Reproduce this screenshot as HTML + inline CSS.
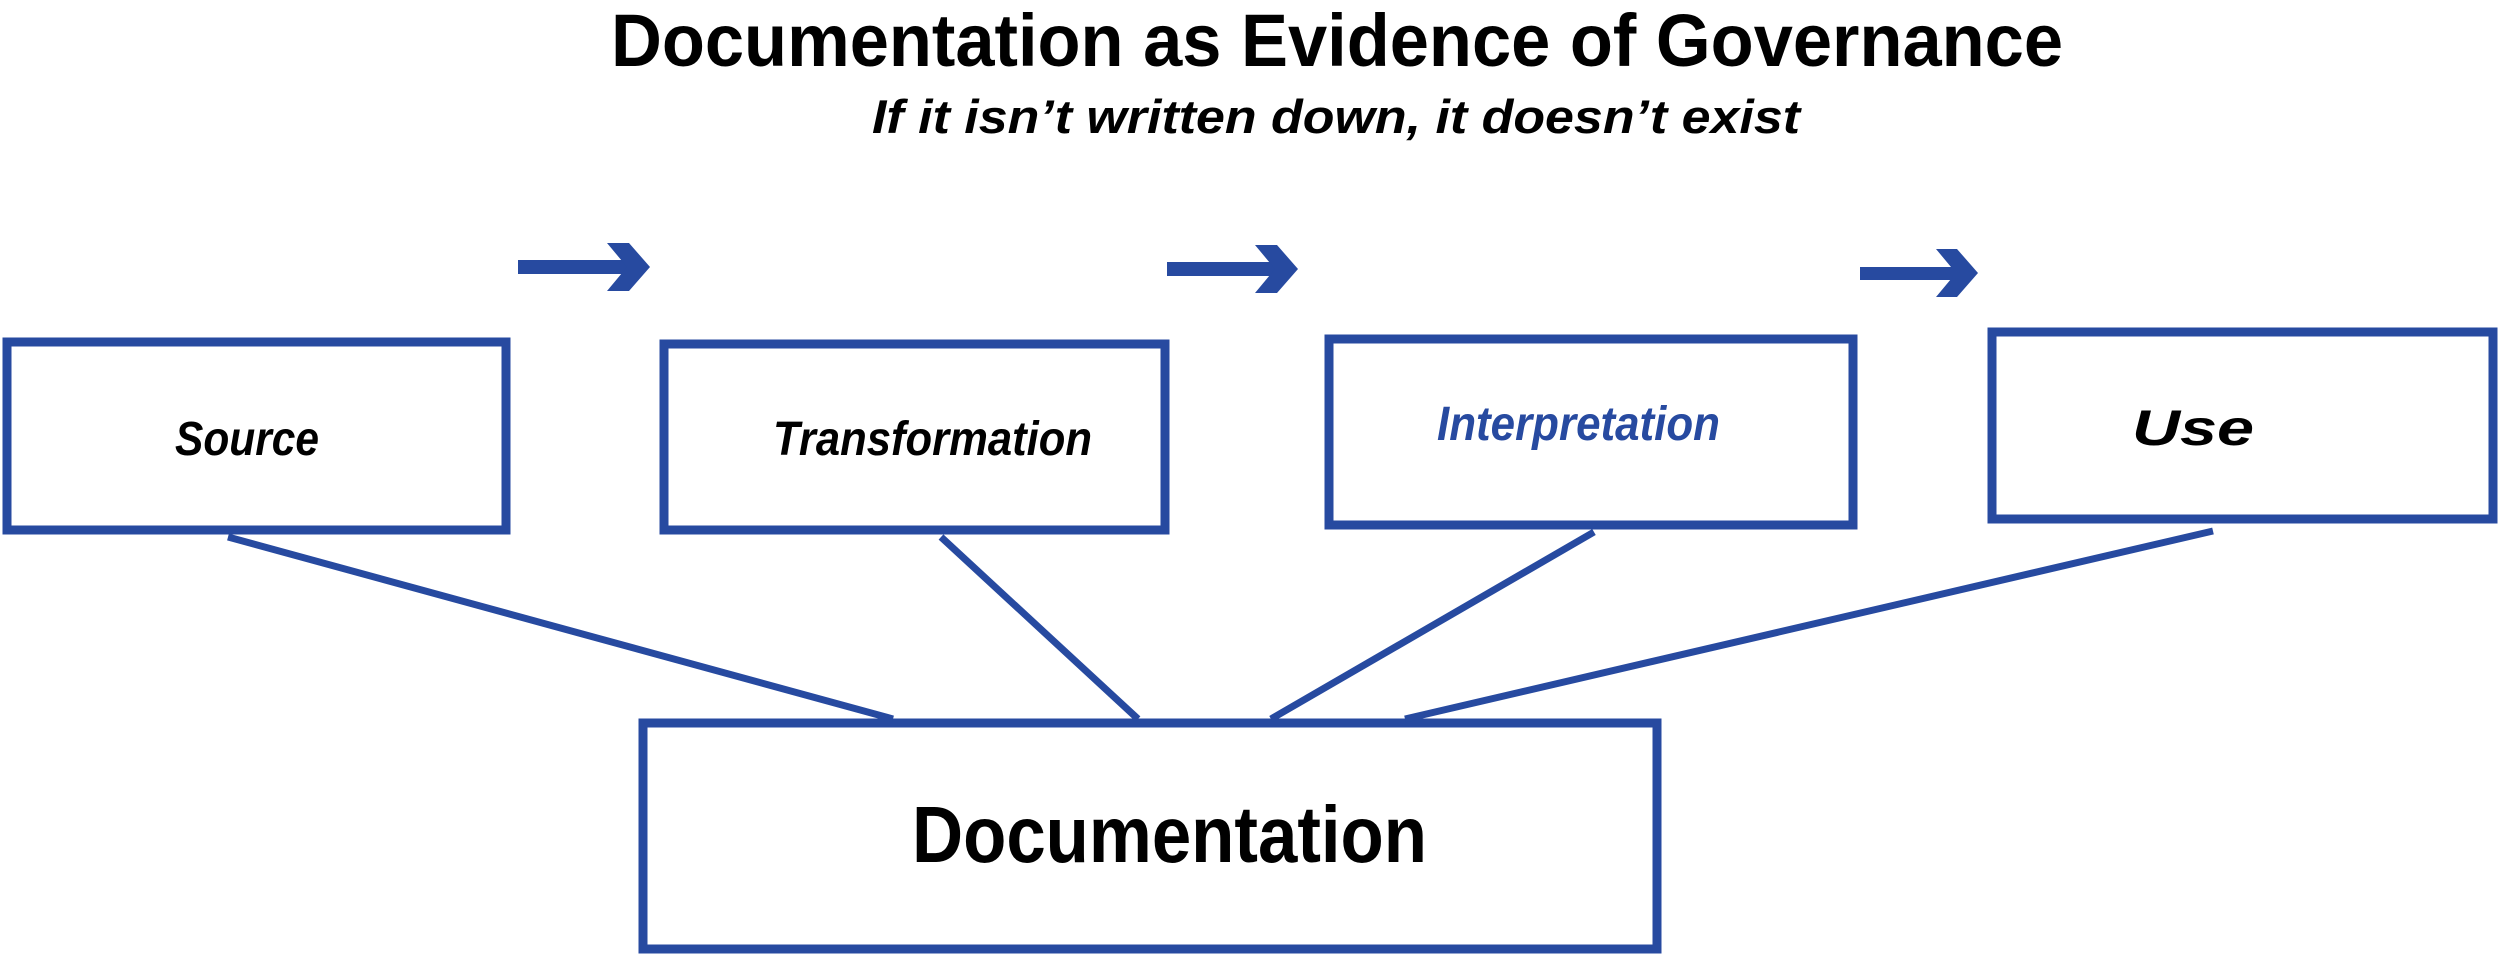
<!DOCTYPE html>
<html><head><meta charset="utf-8"><style>
html,body{margin:0;padding:0;background:#fff;}
svg{display:block;}
text{font-family:"Liberation Sans",sans-serif;font-weight:bold;}
</style></head><body>
<svg width="2500" height="957" viewBox="0 0 2500 957" xmlns="http://www.w3.org/2000/svg">
<g fill="none" stroke="#274AA0" stroke-width="9">
<rect x="7" y="342" width="499" height="188"/>
<rect x="664" y="344" width="501" height="186"/>
<rect x="1329" y="339" width="524" height="186"/>
<rect x="1992" y="332" width="501" height="187"/>
<rect x="643" y="723" width="1014" height="226"/>
</g>
<g stroke="#274AA0" stroke-width="7">
<line x1="228" y1="537" x2="893" y2="719"/>
<line x1="941" y1="537" x2="1138" y2="719"/>
<line x1="1594" y1="532" x2="1271" y2="719"/>
<line x1="2213" y1="531" x2="1405" y2="719"/>
</g>
<g fill="#274AA0">
<rect x="518" y="260" width="112" height="14"/>
<polygon points="607,243 629,243 650,267 629,291 607,291 627,267"/>
<rect x="1167" y="262" width="112" height="14"/>
<polygon points="1255,245 1277,245 1298,269 1277,293 1255,293 1275,269"/>
<rect x="1860" y="267" width="100" height="13"/>
<polygon points="1936,249 1957,249 1978,273 1957,297 1936,297 1956,273"/>
</g>
<text x="611" y="66" font-size="74" textLength="1452" lengthAdjust="spacingAndGlyphs">Documentation as Evidence of Governance</text>
<text x="872" y="133" font-size="47" font-style="italic" textLength="928" lengthAdjust="spacingAndGlyphs">If it isn’t written down, it doesn’t exist</text>
<text x="175" y="455" font-size="48" font-style="italic" textLength="144" lengthAdjust="spacingAndGlyphs">Source</text>
<text x="773" y="455" font-size="48" font-style="italic" textLength="319" lengthAdjust="spacingAndGlyphs">Transformation</text>
<text x="1437" y="440" font-size="48" font-style="italic" fill="#274AA0" textLength="283" lengthAdjust="spacingAndGlyphs">Interpretation</text>
<text x="2132" y="445" font-size="50" font-style="italic" textLength="122" lengthAdjust="spacingAndGlyphs">Use</text>
<text x="912" y="862" font-size="80" textLength="515" lengthAdjust="spacingAndGlyphs">Documentation</text>
</svg>
</body></html>
